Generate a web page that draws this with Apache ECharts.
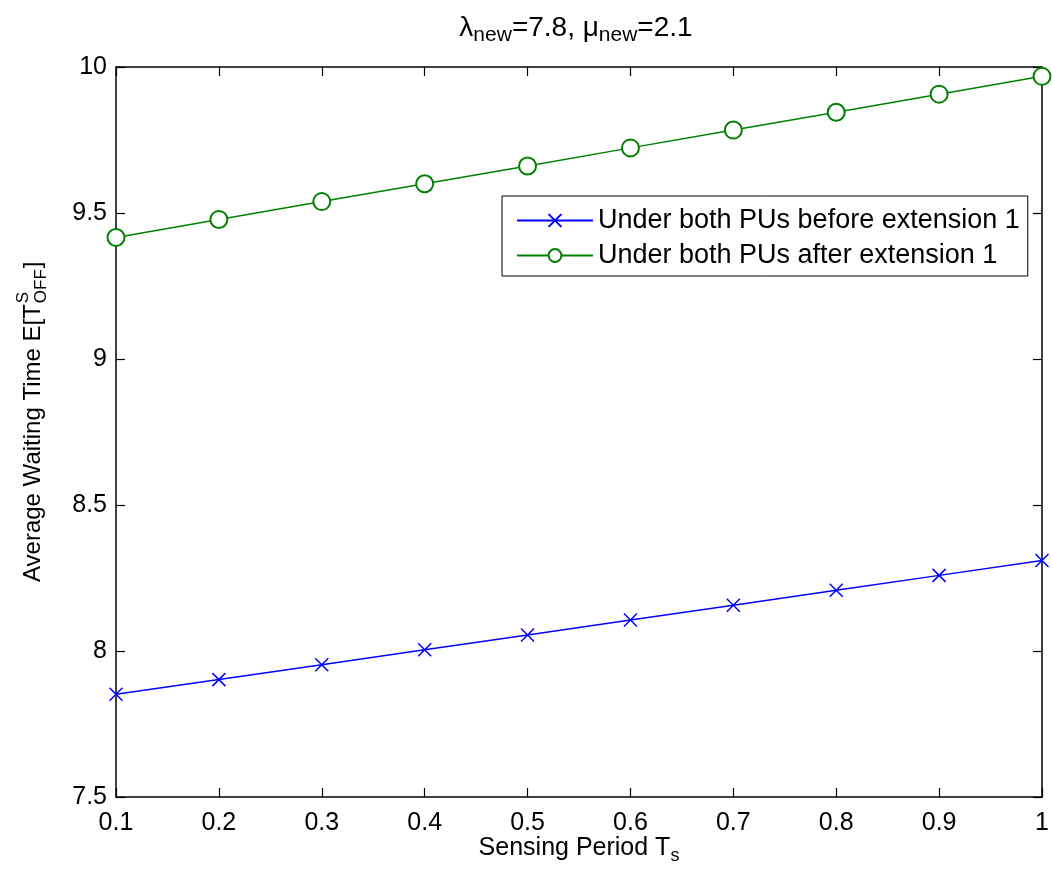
<!DOCTYPE html>
<html>
<head>
    <meta charset="utf-8">
    <title>Average Waiting Time</title>
    <script src="https://cdn.jsdelivr.net/npm/echarts@6/dist/echarts.min.js"></script>
    <style>
        html, body { margin: 0; padding: 0; background: #fff; }
        #chart1 { width: 1052px; height: 872px; }
    </style>
</head>
<body>
<div id="chart1"></div>
<script type="text/javascript">
    // data
    var periods = [0.1, 0.2, 0.3, 0.4, 0.5, 0.6, 0.7, 0.8, 0.9, 1.0];
    var beforeExt = [7.852, 7.902, 7.953, 8.004, 8.055, 8.106, 8.157, 8.208, 8.259, 8.310];
    var afterExt = [9.416, 9.478, 9.539, 9.600, 9.661, 9.723, 9.784, 9.845, 9.907, 9.968];
    var seriesNames = ['Under both PUs before extension 1', 'Under both PUs after extension 1'];

    var FONT = 'Helvetica, "Liberation Sans", Arial, sans-serif';

    function pairs(xs, ys) {
        return xs.map(function (x, i) { return [x, ys[i]]; });
    }

    function textWidth(txt, size) {
        var c = document.createElement('canvas').getContext('2d');
        c.font = size + 'px ' + FONT;
        return c.measureText(txt).width;
    }

    var mainLabel = 'Average Waiting Time E[T';
    var wMain = textWidth(mainLabel, 24);
    var wOff = textWidth('OFF', 17);

    var axisCommon = {
        axisLine: { show: true, onZero: false, lineStyle: { color: '#000', width: 1.5 } },
        axisTick: { show: true, inside: true, length: 9, lineStyle: { color: '#000', width: 1.2 } },
        splitLine: { show: false }
    };

    var myChart = echarts.init(document.getElementById('chart1'));
    myChart.setOption({
        animation: false,
        backgroundColor: '#fff',
        textStyle: { fontFamily: FONT },
        title: {
            text: '{a|λ}{s|new}{a|=7.8, μ}{s|new}{a|=2.1}',
            left: 571,
            top: 5,
            textAlign: 'center',
            textStyle: {
                fontWeight: 'normal',
                rich: {
                    a: { fontSize: 28, color: '#000', fontFamily: FONT, fontWeight: 'normal', lineHeight: 36, verticalAlign: 'middle' },
                    s: { fontSize: 21, color: '#000', fontFamily: FONT, fontWeight: 'normal', lineHeight: 36, verticalAlign: 'bottom', padding: [15, 0, 0, 0] }
                }
            }
        },
        grid: { left: 116, right: 10, top: 67, bottom: 75, outerBoundsMode: 'none', containLabel: false },
        legend: {
            data: seriesNames,
            orient: 'vertical',
            left: 502,
            top: 196,
            padding: [11, 8, 7, 14],
            itemWidth: 76,
            itemHeight: 16,
            itemGap: 8,
            backgroundColor: '#fff',
            borderColor: '#000',
            borderWidth: 1,
            borderRadius: 0,
            textStyle: { fontSize: 27, color: '#000', fontFamily: FONT }
        },
        xAxis: [
            Object.assign({
                type: 'value',
                min: 0.1,
                max: 1,
                interval: 0.1,
                position: 'bottom',
                name: '{a|Sensing Period T}{s|s}',
                nameLocation: 'middle',
                nameGap: 34,
                nameMoveOverlap: false,
                nameTextStyle: {
                    rich: {
                        a: { fontSize: 25, color: '#000', fontFamily: FONT, lineHeight: 34, verticalAlign: 'middle' },
                        s: { fontSize: 18, color: '#000', fontFamily: FONT, lineHeight: 34, verticalAlign: 'bottom', padding: [16, 0, 0, 0] }
                    }
                },
                axisLabel: {
                    fontSize: 25, color: '#000', margin: 14,
                    formatter: function (v) { return String(Math.round(v * 10) / 10); }
                }
            }, axisCommon),
            Object.assign({
                type: 'value', min: 0.1, max: 1, interval: 0.1, position: 'top',
                axisLabel: { show: false }
            }, axisCommon)
        ],
        yAxis: [
            Object.assign({
                type: 'value',
                min: 7.5,
                max: 10,
                interval: 0.5,
                position: 'left',
                axisLabel: {
                    fontSize: 25, color: '#000', margin: 9,
                    formatter: function (v) { return String(Math.round(v * 10) / 10); }
                }
            }, axisCommon),
            Object.assign({
                type: 'value', min: 7.5, max: 10, interval: 0.5, position: 'right',
                axisLabel: { show: false }
            }, axisCommon)
        ],
        series: [
            {
                name: seriesNames[0],
                type: 'line',
                data: pairs(periods, beforeExt),
                symbol: 'path://M0,0L10,10M10,0L0,10',
                symbolSize: 13,
                showAllSymbol: true,
                lineStyle: { color: '#0000ff', width: 1.5 },
                itemStyle: { color: 'none', borderColor: '#0000ff', borderWidth: 1.5 }
            },
            {
                name: seriesNames[1],
                type: 'line',
                data: pairs(periods, afterExt),
                symbol: 'emptyCircle',
                symbolSize: 17,
                showAllSymbol: true,
                lineStyle: { color: '#008000', width: 1.5 },
                itemStyle: { color: '#008000', borderColor: '#008000', borderWidth: 1.5 }
            }
        ],
        graphic: [
            {
                type: 'group',
                x: 33,
                y: 582,
                rotation: Math.PI / 2,
                children: [
                    { type: 'text', x: 0, y: 0, style: { text: mainLabel, font: '24px ' + FONT, fill: '#000', textAlign: 'left', textVerticalAlign: 'middle' } },
                    { type: 'text', x: wMain + 1, y: -10, style: { text: 'S', font: '17px ' + FONT, fill: '#000', textAlign: 'left', textVerticalAlign: 'middle' } },
                    { type: 'text', x: wMain + 1, y: 8, style: { text: 'OFF', font: '17px ' + FONT, fill: '#000', textAlign: 'left', textVerticalAlign: 'middle' } },
                    { type: 'text', x: wMain + wOff + 2, y: 0, style: { text: ']', font: '24px ' + FONT, fill: '#000', textAlign: 'left', textVerticalAlign: 'middle' } }
                ]
            }
        ]
    });
</script>
</body>
</html>
